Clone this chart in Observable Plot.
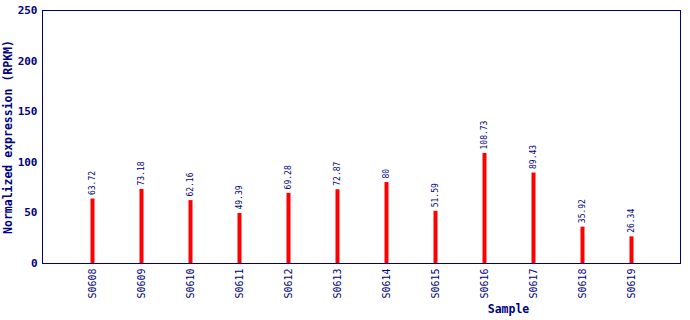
<!DOCTYPE html>
<html><head><meta charset="utf-8">
<script src="https://cdn.jsdelivr.net/npm/d3@7"></script>
<script src="https://cdn.jsdelivr.net/npm/@observablehq/plot@0.6"></script>
<style>body{margin:0;background:#fff}</style>
</head><body><div id="chart"></div>
<script>
const samples = ["S0608","S0609","S0610","S0611","S0612","S0613","S0614","S0615","S0616","S0617","S0618","S0619"];
const values = [63.72,73.18,62.16,49.39,69.28,72.87,80,51.59,108.73,89.43,35.92,26.34];
const yTicks = [0,50,100,150,200,250];
const data = samples.map((s,i)=>({sample:s, value:values[i]}));
const navy = "#000080";
const mono = "'DejaVu Sans Mono', 'Liberation Mono', monospace";

const chart = Plot.plot({
  width: 690, height: 320,
  marginLeft: 42, marginRight: 10, marginTop: 10, marginBottom: 57,
  style: {fontFamily: mono, color: navy, background: "#fff"},
  x: {type: "point", domain: samples, padding: 1, label: null},
  y: {domain: [0,250], label: null},
  marks: [
    Plot.frame({stroke: navy}),
    Plot.ruleX(data, {x: "sample", y1: 0, y2: "value", stroke: "#ff0000", strokeWidth: 4}),
    Plot.text(data, {x: "sample", y: "value", text: d => String(d.value), rotate: -90, textAnchor: "start", dy: -4, fontSize: 8, fill: navy}),
    Plot.axisY({ticks: yTicks, tickSize: 0, tickPadding: 5, fontSize: 11, fontWeight: "bold", fill: navy, label: null}),
    Plot.axisX({tickSize: 0, tickPadding: 5, tickRotate: -90, fontSize: 10, fill: navy, label: null}),
    Plot.text(["Normalized expression (RPKM)"], {frameAnchor: "left", dx: -34, rotate: -90, fontSize: 11.5, fontWeight: "bold", fill: navy, textAnchor: "middle"}),
    Plot.text(["Sample"], {x: () => "S0616", frameAnchor: "bottom", dx: 24, dy: 49, fontSize: 11.5, fontWeight: "bold", fill: navy})
  ]
});
document.getElementById("chart").appendChild(chart);
</script></body></html>
